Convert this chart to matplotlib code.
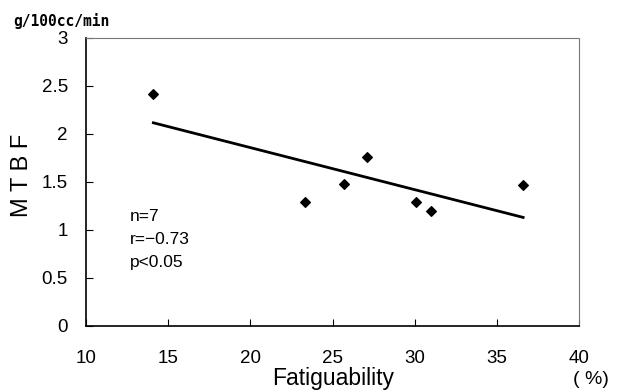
import matplotlib

matplotlib.use("Agg")
import matplotlib.pyplot as plt
import numpy as np

# Fatiguability (%) vs MTBF (g/100cc/min)
fatiguability = [14.1, 23.3, 25.7, 27.1, 30.1, 31.0, 36.6]
mtbf = [2.42, 1.29, 1.48, 1.76, 1.29, 1.20, 1.47]
x_ticks = [10, 15, 20, 25, 30, 35, 40]
y_ticks = [0, 0.5, 1, 1.5, 2, 2.5, 3]
stats_lines = ["n=7", "r=\u22120.73", "p<0.05"]

plt.rcParams.update({"font.family": ["Liberation Sans", "DejaVu Sans"]})

W, H = 623, 391
fig = plt.figure(figsize=(W / 100, H / 100), dpi=100)
ax = fig.add_axes([86 / W, 1 - 326 / H, 493 / W, 288 / H])

ax.scatter(fatiguability, mtbf, marker="D", s=24, color="black", zorder=3)

# least-squares trend line over the data range
slope, intercept = np.polyfit(fatiguability, mtbf, 1)
xs = np.array([min(fatiguability), max(fatiguability)])
ax.plot(xs, slope * xs + intercept, color="black", lw=2.0)

ax.set_xlim(10, 40)
ax.set_ylim(0, 3)
ax.set_xticks(x_ticks)
ax.set_yticks(y_ticks)
ax.set_yticklabels([f"{v:g}" for v in y_ticks])
ax.tick_params(direction="in", length=5, width=0.8, labelsize=13.5)
ax.tick_params(axis="x", pad=17.5)
ax.tick_params(axis="y", pad=13)

ax.spines["left"].set_linewidth(1.2)
ax.spines["bottom"].set_linewidth(1.2)
for side in ("top", "right"):
    ax.spines[side].set_linestyle((0, (1, 1)))
    ax.spines[side].set_color("#777777")
    ax.spines[side].set_linewidth(0.8)

for i, line in enumerate(stats_lines):
    fig.text(130 / W, 1 - (221 + 23 * i) / H, line, fontsize=12.5,
             ha="left", va="baseline")

fig.text(22 / W, 1 - 175 / H, "M T B F", rotation=90, fontsize=17,
         ha="center", va="center")
fig.text(13 / W, 1 - 21 / H, "g/100cc/min", fontsize=10.5,
         family="DejaVu Sans Mono", fontweight="bold", ha="left", va="center")
fig.text(333 / W, 1 - 385 / H, "Fatiguability", fontsize=16.5,
         ha="center", va="baseline")
fig.text(591 / W, 1 - 379 / H, "( %)", fontsize=14,
         ha="center", va="center")

fig.savefig("out.png", dpi=100)
